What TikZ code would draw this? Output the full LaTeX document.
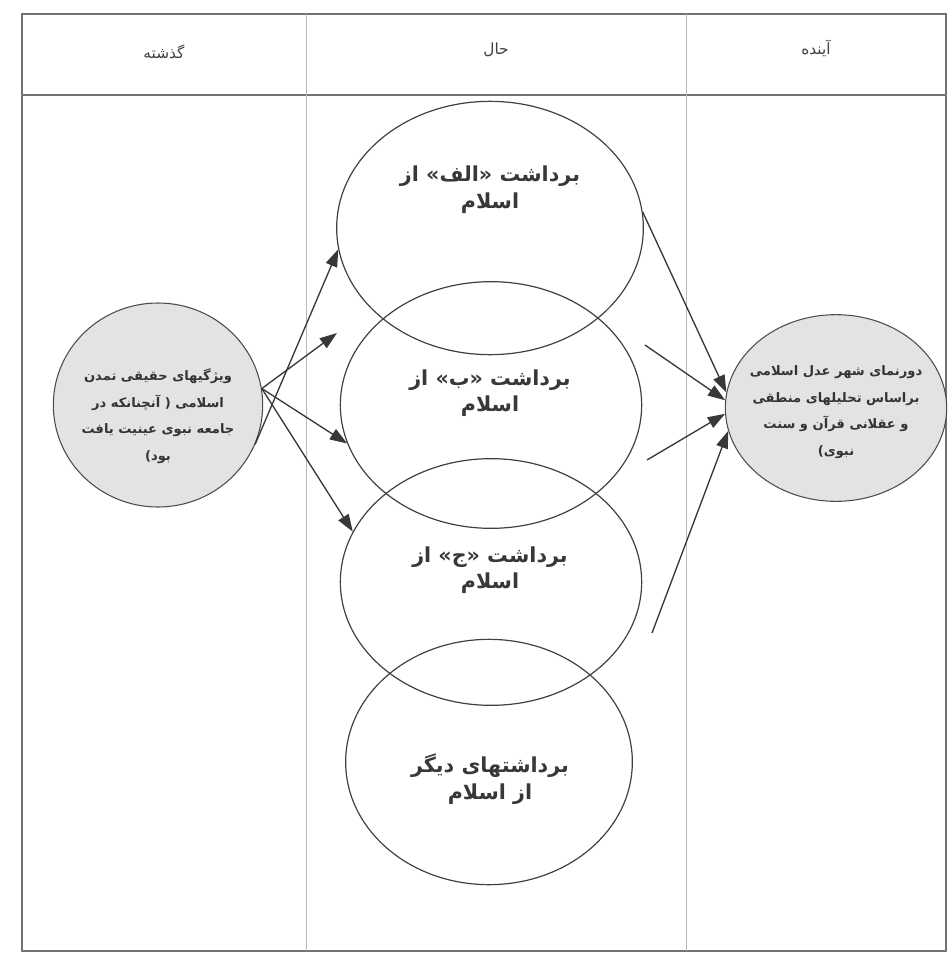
\documentclass[tikz,border=0pt]{standalone}
\usepackage{fontspec}
\usetikzlibrary{arrows.meta,shapes.geometric}
\newfontfamily\arabicfont[Script=Arabic]{DejaVu Sans}
\TeXXeTstate=1
\newcommand{\fatext}[1]{\beginR #1\endR}

\begin{document}
\begin{tikzpicture}[x=0.75pt,y=-0.75pt,
  frameline/.style={draw=black!55,line width=1.3pt},
  colline/.style={draw=black!28,line width=0.6pt},
  head/.style={font=\arabicfont\fontsize{11.5}{13}\selectfont,text=black!75},
  view/.style={ellipse,draw=black!75,line width=0.9pt,inner sep=0pt},
  viewtxt/.style={align=center,inner sep=1pt,font=\arabicfont\bfseries\fontsize{15.5}{20}\selectfont,text=black!78},
  time/.style={ellipse,draw=black!70,line width=0.8pt,fill=black!11,inner sep=0pt},
  timetxt/.style={align=center,inner sep=1pt,font=\arabicfont\bfseries\fontsize{9.8}{20}\selectfont,text=black!80},
  link/.style={draw=black!78,line width=1pt,-{Triangle[length=13pt,width=9pt]}}]
  \useasboundingbox (0,0) rectangle (951,956);

  % table
  \draw[frameline] (22,14) rectangle (946,951);
  \draw[frameline] (22,95) -- (946,95);
  \draw[colline] (306,14) -- (306,951);
  \draw[colline] (686,14) -- (686,951);
  \node[head] (past) at (164,52) {\fatext{گذشته}};
  \node[head] (now) at (496,50) {\fatext{حال}};
  \node[head] (future) at (816,48) {\fatext{آینده}};

  % the four readings
  \node[view,minimum width=230pt,minimum height=190pt] (e1) at (490,228) {};
  \node[view,minimum width=226pt,minimum height=185pt] (e2) at (491,405) {};
  \node[view,minimum width=226pt,minimum height=185pt] (e3) at (491,582) {};
  \node[view,minimum width=215pt,minimum height=184pt] (e4) at (489,762) {};
  \node[viewtxt] (t1) at (490,190) {\fatext{برداشت «الف» از}\\\fatext{اسلام}};
  \node[viewtxt] (t2) at (490,393) {\fatext{برداشت «ب» از}\\\fatext{اسلام}};
  \node[viewtxt] (t3) at (490,570) {\fatext{برداشت «ج» از}\\\fatext{اسلام}};
  \node[viewtxt] (t4) at (490,779) {\fatext{برداشتهای دیگر}\\\fatext{از اسلام}};

  % past and future
  \node[time,minimum width=157pt,minimum height=153pt] (pastc) at (158,405) {};
  \node[time,minimum width=166pt,minimum height=140pt] (futc) at (836,408) {};
  \node[timetxt] (pasttxt) at (158,416)
    {\fatext{ویژگیهای حقیقی تمدن}\\\fatext{اسلامی ( آنچنانکه در}\\\fatext{جامعه نبوی عینیت یافت}\\\fatext{بود)}};
  \node[timetxt] (futtxt) at (836,412)
    {\fatext{دورنمای شهر عدل اسلامی}\\\fatext{براساس تحلیلهای منطقی}\\\fatext{و عقلانی قرآن و سنت}\\\fatext{نبوی)}};

  \coordinate (tipb) at (337,333);
  \coordinate (s2) at (645,345);
  \coordinate (s3) at (647,460);
  \coordinate (s4) at (652,633);

  % arrows
  \draw[link] (pastc.-22) -- (e1.188);
  \draw[link] (pastc.9) -- (tipb);
  \draw[link] (pastc.9) -- (e2.195);
  \draw[link] (pastc.9) -- (e3.160);
  \draw[link] (e1.6) -- (futc.172);
  \draw[link] (s2) -- (futc.176);
  \draw[link] (s3) -- (futc.183);
  \draw[link] (s4) -- (futc.192);
\end{tikzpicture}
\end{document}
